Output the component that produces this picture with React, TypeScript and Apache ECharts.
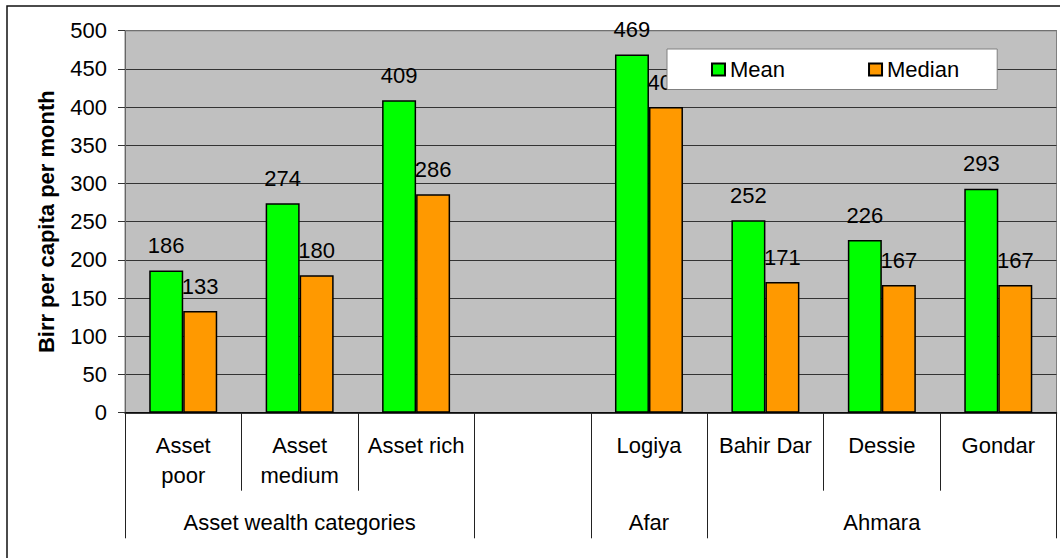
import React, { useEffect, useRef } from "react";
import * as echarts from "echarts";

const categories = ["Asset\npoor", "Asset\nmedium", "Asset rich", "", "Logiya", "Bahir Dar", "Dessie", "Gondar"];
const groupLabels = ["", "Asset wealth categories", "", "", "Afar", "", "Ahmara", ""];
const groupBoundaryIndex = [0, 3, 4, 5];
const meanValues: (number | null)[] = [186, 274, 409, null, 469, 252, 226, 293];
const medianValues: (number | null)[] = [133, 180, 286, null, 400, 171, 167, 167];
const yTicks = { min: 0, max: 500, interval: 50 };

const FONT = "'Liberation Sans', Arial, sans-serif";
const FS = 22;

export default function App() {
  const ref = useRef<HTMLDivElement>(null);
  useEffect(() => {
    if (!ref.current) return;
    const chart = echarts.init(ref.current, undefined, { renderer: "svg" });
    const labelStyle = {
      show: true,
      position: "top" as const,
      distance: 14,
      fontSize: FS,
      color: "#000",
      fontFamily: FONT,
    };
    chart.setOption({
      animation: false,
      textStyle: { fontFamily: FONT },
      graphic: [
        {
          type: "rect",
          shape: { x: 7, y: 6, width: 1200, height: 800 },
          style: { fill: "none", stroke: "#111", lineWidth: 1.5 },
          silent: true,
          z: -10,
        },
        {
          type: "line",
          shape: { x1: 125, y1: 30.7, x2: 1056.5, y2: 30.7 },
          style: { stroke: "#808080", lineWidth: 1 },
          silent: true,
          z: 1,
        },
      ],
      legend: {
        left: 667,
        top: 49,
        orient: "horizontal",
        backgroundColor: "#fff",
        borderColor: "#808080",
        borderWidth: 1,
        padding: [9.5, 38, 9, 44],
        itemGap: 83,
        itemWidth: 13,
        itemHeight: 12,
        icon: "rect",
        textStyle: { fontSize: FS, color: "#000", fontFamily: FONT },
        data: ["Mean", "Median"],
      },
      grid: {
        left: 125,
        right: 3.5,
        top: 30.7,
        bottom: 145.3,
        show: true,
        backgroundColor: "#c0c0c0",
        borderColor: "#808080",
        borderWidth: 1,
        containLabel: false,
      },
      xAxis: [
        {
          type: "category",
          data: categories,
          position: "bottom",
          axisLine: { show: true, lineStyle: { color: "#000", width: 1.5 } },
          axisTick: { show: true, length: 78, lineStyle: { color: "#222", width: 1 } },
          axisLabel: {
            interval: 0,
            margin: 18,
            fontSize: FS,
            lineHeight: 30,
            color: "#000",
            fontFamily: FONT,
          },
          splitLine: { show: false },
        },
        {
          type: "category",
          data: groupLabels,
          position: "bottom",
          gridIndex: 0,
          axisLine: { show: false },
          axisTick: {
            show: true,
            length: 125.6,
            interval: (index: number) => groupBoundaryIndex.includes(index),
            lineStyle: { color: "#222", width: 1 },
          },
          axisLabel: {
            interval: 0,
            margin: 94.6,
            fontSize: FS,
            lineHeight: 30,
            color: "#000",
            fontFamily: FONT,
          },
          splitLine: { show: false },
        },
      ],
      yAxis: {
        type: "value",
        min: yTicks.min,
        max: yTicks.max,
        interval: yTicks.interval,
        name: "Birr per capita per month",
        nameLocation: "middle",
        nameGap: 68,
        nameTextStyle: { fontSize: 22, fontWeight: "bold", color: "#000", fontFamily: FONT },
        axisLine: { show: true, lineStyle: { color: "#666", width: 1 } },
        axisTick: { show: true, length: 7, lineStyle: { color: "#333" } },
        axisLabel: { margin: 18, fontSize: FS, color: "#000", fontFamily: FONT },
        splitLine: { show: true, lineStyle: { color: "#333", width: 1 } },
      },
      series: [
        {
          name: "Mean",
          type: "bar",
          data: meanValues,
          xAxisIndex: 0,
          barGap: "0%",
          barCategoryGap: "41.6%",
          itemStyle: { color: "#00ff00", borderColor: "#000", borderWidth: 1.5 },
          label: labelStyle,
        },
        {
          name: "Median",
          type: "bar",
          data: medianValues,
          xAxisIndex: 0,
          barGap: "0%",
          barCategoryGap: "41.6%",
          itemStyle: { color: "#ff9900", borderColor: "#000", borderWidth: 1.5 },
          label: labelStyle,
        },
      ],
    });
    return () => chart.dispose();
  }, []);
  return (
    <div
      ref={ref}
      style={{ position: "absolute", left: 0, top: 0, width: 1060, height: 558, background: "#fff" }}
    />
  );
}
